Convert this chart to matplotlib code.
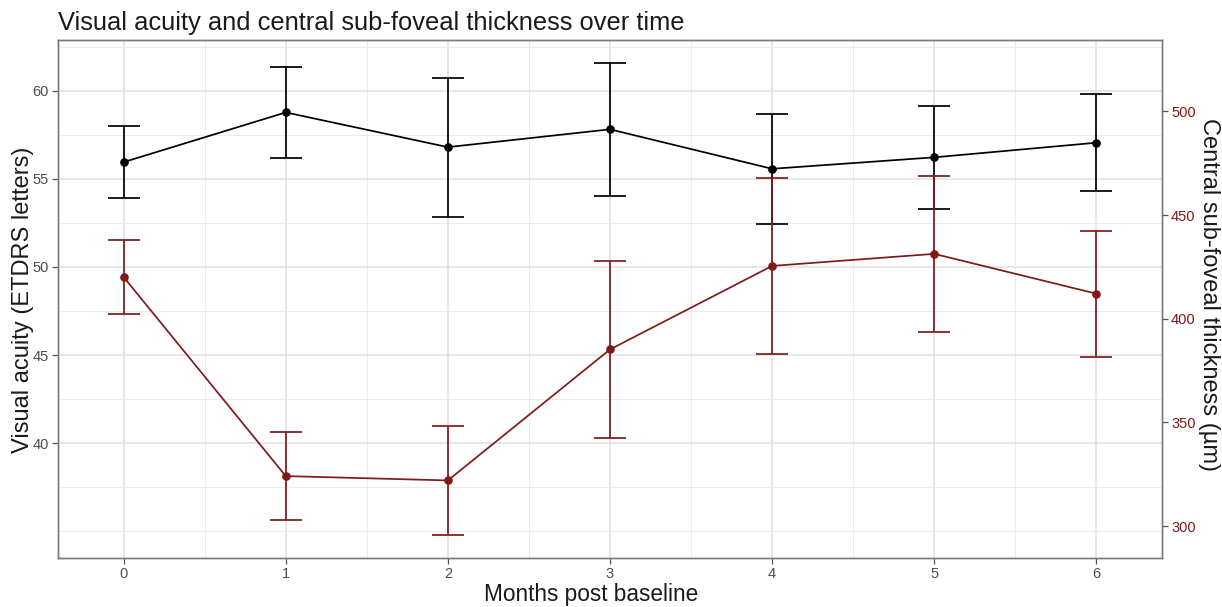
import matplotlib
matplotlib.use("Agg")
import matplotlib.pyplot as plt
from matplotlib.ticker import FixedLocator

# ---- data ----
months = [0, 1, 2, 3, 4, 5, 6]
va_mean = [55.95, 58.77, 56.80, 57.81, 55.57, 56.22, 57.05]
va_err = [2.06, 2.60, 3.95, 3.77, 3.13, 2.93, 2.76]
cst_mean = [420.1, 324.1, 322.0, 385.2, 425.5, 431.3, 412.1]
cst_err = [18.0, 21.3, 26.2, 42.7, 42.5, 37.5, 30.4]
va_ticks = [40, 45, 50, 55, 60]
cst_ticks = [300, 350, 400, 450, 500]
scale = 8.5  # µm per letter on secondary axis

title = "Visual acuity and central sub-foveal thickness over time"
xlabel = "Months post baseline"
ylabel_left = "Visual acuity (ETDRS letters)"
ylabel_right = "Central sub-foveal thickness (µm)"

RED = "#7f1a1a"
plt.rcParams['font.family'] = ['Liberation Sans', 'DejaVu Sans']

W, H = 1222, 607
fig = plt.figure(figsize=(W/100, H/100), dpi=100)
ax = fig.add_axes([58/W, 1-558/H, (1162-58)/W, (558-40)/H])

ylo, yhi = 33.48, 62.88
ax.set_xlim(-0.405, 6.405)
ax.set_ylim(ylo, yhi)

# grid
ax.xaxis.set_major_locator(FixedLocator(months))
ax.xaxis.set_minor_locator(FixedLocator([m + 0.5 for m in months[:-1]]))
ax.yaxis.set_major_locator(FixedLocator(va_ticks))
ax.yaxis.set_minor_locator(FixedLocator([35, 37.5, 42.5, 47.5, 52.5, 57.5, 62.5]))
ax.grid(which='major', color='#e0e0e0', lw=1.1)
ax.grid(which='minor', color='#ececec', lw=0.7)
ax.set_axisbelow(True)
ax.tick_params(which='minor', length=0)
ax.tick_params(which='major', length=4, width=0.9, color='#555555',
               labelsize=10.5, labelcolor='#4d4d4d', pad=2.5)

for s in ax.spines.values():
    s.set_color('#7a7a7a')
    s.set_linewidth(1.0)

ax.errorbar(months, va_mean, yerr=va_err, fmt='-o', color='black', ms=5.2,
            lw=1.25, elinewidth=1.25, capsize=11.5, capthick=1.25, zorder=3)

ax2 = ax.twinx()
ax2.set_ylim(ylo * scale, yhi * scale)
ax2.yaxis.set_major_locator(FixedLocator(cst_ticks))
ax2.errorbar(months, cst_mean, yerr=cst_err, fmt='-o', color=RED, ms=5.2,
             lw=1.25, elinewidth=1.25, capsize=11.5, capthick=1.25, zorder=3)
ax2.tick_params(length=4, width=0.9, color='#555555', labelsize=10.5,
                labelcolor=RED, pad=2.5)
for s in ax2.spines.values():
    s.set_color('#7a7a7a')
    s.set_linewidth(1.0)

fig.text(591/W, 1-601/H, xlabel, fontsize=16.3, color='#1a1a1a',
         ha='center', va='baseline')
fig.text(23/W, 1-300/H, ylabel_left, fontsize=17.0, color='#1a1a1a',
         rotation=90, ha='center', va='center')
fig.text(1209/W, 1-295/H, ylabel_right, fontsize=17.0, color='#1a1a1a',
         rotation=270, ha='center', va='center')
fig.text(58/W, 1-30/H, title, fontsize=18.4, color='#1a1a1a',
         ha='left', va='baseline')

fig.savefig("out.png", dpi=100)
